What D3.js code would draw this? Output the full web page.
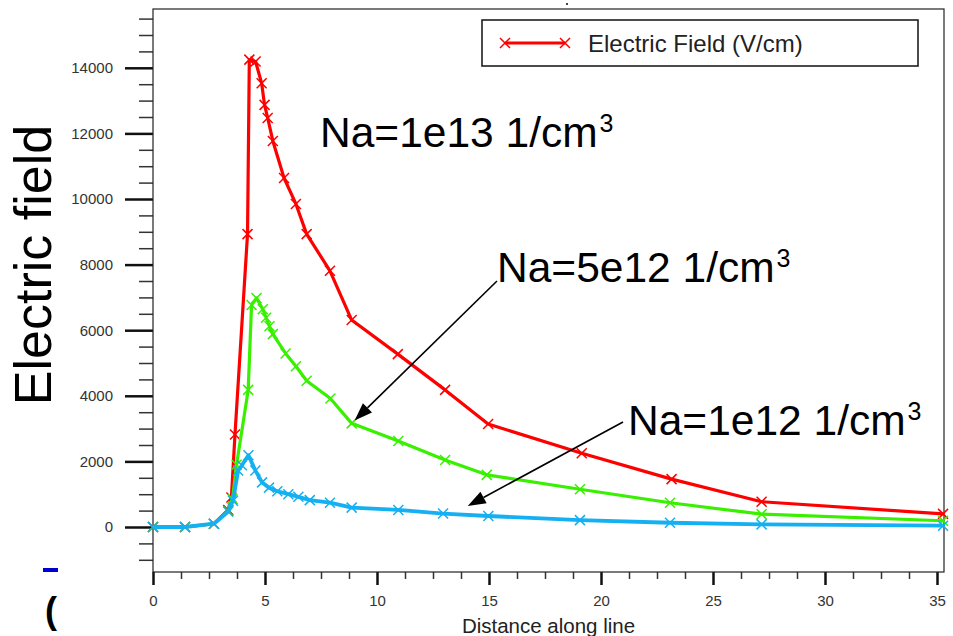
<!DOCTYPE html>
<html>
<head>
<meta charset="utf-8">
<script src="https://cdn.jsdelivr.net/npm/d3@7"></script>
<style>
  body { margin: 0; background: #fff; }
  svg { display: block; font-family: "Liberation Sans", Arial, Helvetica, sans-serif; }
</style>
</head>
<body>
<svg id="chart" width="953" height="636"></svg>
<script>
// ---- data -------------------------------------------------------------
const xMajorTicks = [0, 5, 10, 15, 20, 25, 30, 35];
const yMajorTicks = [0, 2000, 4000, 6000, 8000, 10000, 12000, 14000];
const legendLabel = "Electric Field (V/cm)";
const xTitle = "Distance along line";
const yTitle = "Electric field";

// Na = 1e13 1/cm3
const dist13  = [0, 1.43, 2.72, 3.36, 3.5, 3.66, 4.22, 4.3, 4.58, 4.85, 4.98, 5.12, 5.35, 5.85, 6.38, 6.86, 7.9, 8.87, 10.93, 13.04, 14.96, 19.14, 23.15, 27.17, 35.27];
const field13 = [0, 0, 100, 520, 900, 2820, 8930, 14250, 14190, 13530, 12870, 12470, 11770, 10640, 9850, 8930, 7810, 6310, 5270, 4180, 3140, 2250, 1460, 770, 400];

// Na = 5e12 1/cm3
const dist5e12  = [0, 1.43, 2.72, 3.36, 3.55, 3.73, 4.25, 4.4, 4.62, 4.9, 5.05, 5.2, 5.35, 5.92, 6.38, 6.86, 7.92, 8.87, 10.95, 13.04, 14.9, 19.06, 23.08, 27.17, 35.27];
const field5e12 = [0, 0, 100, 480, 850, 1900, 4180, 6770, 6980, 6640, 6380, 6120, 5880, 5290, 4900, 4460, 3920, 3160, 2620, 2040, 1590, 1150, 740, 390, 190];

// Na = 1e12 1/cm3
const dist12  = [0, 1.43, 2.72, 3.36, 3.57, 3.8, 3.97, 4.26, 4.57, 4.87, 5.18, 5.55, 6.04, 6.49, 7.0, 7.9, 8.87, 10.95, 12.95, 14.97, 19.06, 23.08, 27.17, 35.27];
const field12 = [0, 0, 100, 470, 800, 1720, 1880, 2190, 1720, 1360, 1200, 1090, 1000, 920, 820, 740, 590, 520, 410, 335, 210, 130, 80, 40];

const seriesColors = ["#ff0000", "#38f000", "#14b0f2"];
const seriesWidths = [3.2, 3.2, 3.8];

// ---- layout -----------------------------------------------------------
const frame = { left: 153, right: 944, top: 9, bottom: 572 };
const svg = d3.select("#chart");

const x = d3.scaleLinear().domain([0, 35]).range([153, 937]);
const y = d3.scaleLinear().domain([0, 14000]).range([527, 67.8]);

// ---- axes -------------------------------------------------------------
const xMinor = d3.range(0, 35.3, 1.25).filter(v => Math.abs(v / 5 - Math.round(v / 5)) > 1e-6);
const yMinor = d3.range(-1000, 15600, 500).filter(v => v % 2000 !== 0);

const gx = svg.append("g").attr("transform", `translate(0,${frame.bottom})`);
gx.append("g")
  .call(d3.axisBottom(x).tickValues(xMinor).tickSize(7).tickFormat(""))
  .call(g => g.select(".domain").remove())
  .call(g => g.selectAll("line").attr("stroke", "#333").attr("stroke-width", 1.5));
gx.append("g")
  .call(d3.axisBottom(x).tickValues(xMajorTicks).tickSize(13).tickPadding(10).tickFormat(d3.format("d")))
  .call(g => g.select(".domain").remove())
  .call(g => g.selectAll("line").attr("stroke", "#111").attr("stroke-width", 2.5))
  .call(g => g.selectAll("text").attr("font-size", 15).attr("fill", "#333").attr("font-family", null));

const gy = svg.append("g").attr("transform", `translate(${frame.left},0)`);
gy.append("g")
  .call(d3.axisLeft(y).tickValues(yMinor).tickSize(14).tickFormat(""))
  .call(g => g.select(".domain").remove())
  .call(g => g.selectAll("line").attr("stroke", "#333").attr("stroke-width", 1.5));
gy.append("g")
  .call(d3.axisLeft(y).tickValues(yMajorTicks).tickSize(28).tickPadding(12).tickFormat(d3.format("d")))
  .call(g => g.select(".domain").remove())
  .call(g => g.selectAll("line").attr("stroke", "#111").attr("stroke-width", 2.5))
  .call(g => g.selectAll("text").attr("font-size", 15).attr("fill", "#333").attr("font-family", null));

// plot frame
svg.append("rect")
  .attr("x", frame.left).attr("y", frame.top)
  .attr("width", frame.right - frame.left).attr("height", frame.bottom - frame.top)
  .attr("fill", "none").attr("stroke", "#222").attr("stroke-width", 1.2);

// axis titles
svg.append("text")
  .attr("x", (frame.left + frame.right) / 2).attr("y", 633)
  .attr("text-anchor", "middle").attr("font-size", 20.5).attr("fill", "#222")
  .text(xTitle);

svg.append("text")
  .attr("transform", "translate(51,265) rotate(-90)")
  .attr("text-anchor", "middle").attr("font-size", 52).attr("fill", "#000")
  .text(yTitle);

// ---- series -----------------------------------------------------------
const series = [
  { dist: dist13,   field: field13,   color: seriesColors[0], width: seriesWidths[0] },
  { dist: dist5e12, field: field5e12, color: seriesColors[1], width: seriesWidths[1] },
  { dist: dist12,   field: field12,   color: seriesColors[2], width: seriesWidths[2] }
];

const line = d3.line().x(d => x(d[0])).y(d => y(d[1]));
const cross = 5;

series.forEach(s => {
  const pts = d3.zip(s.dist, s.field);
  const g = svg.append("g");
  g.append("path")
    .datum(pts)
    .attr("d", line)
    .attr("fill", "none")
    .attr("stroke", s.color)
    .attr("stroke-width", s.width)
    .attr("stroke-linejoin", "round");
  g.selectAll("path.mk")
    .data(pts)
    .join("path")
    .attr("class", "mk")
    .attr("d", d => {
      const px = x(d[0]), py = y(d[1]);
      return `M${px - cross},${py - cross}L${px + cross},${py + cross}M${px - cross},${py + cross}L${px + cross},${py - cross}`;
    })
    .attr("stroke", s.color)
    .attr("stroke-width", 1.5)
    .attr("fill", "none");
});

// ---- legend -----------------------------------------------------------
const lg = svg.append("g");
lg.append("rect")
  .attr("x", 482).attr("y", 20).attr("width", 436).attr("height", 46)
  .attr("fill", "#fff").attr("stroke", "#111").attr("stroke-width", 1.5);
lg.append("line")
  .attr("x1", 505).attr("x2", 565).attr("y1", 43).attr("y2", 43)
  .attr("stroke", seriesColors[0]).attr("stroke-width", 3);
[505, 565].forEach(px => {
  lg.append("path")
    .attr("d", `M${px - 5},${38}L${px + 5},${48}M${px - 5},${48}L${px + 5},${38}`)
    .attr("stroke", seriesColors[0]).attr("stroke-width", 1.5);
});
lg.append("text")
  .attr("x", 588).attr("y", 52)
  .attr("font-size", 24).attr("fill", "#222")
  .text(legendLabel);

// ---- annotations ------------------------------------------------------
function concLabel(px, py, base) {
  const t = svg.append("text").attr("x", px).attr("y", py).attr("font-size", 42.5).attr("fill", "#000");
  t.append("tspan").text(base + " 1/cm");
  t.append("tspan").attr("font-size", 25).attr("dy", -15).attr("dx", 2).text("3");
}
concLabel(320, 147, "Na=1e13");
concLabel(497, 282, "Na=5e12");
concLabel(628, 435, "Na=1e12");

function arrow(x0, y0, x1, y1) {
  const ang = Math.atan2(y1 - y0, x1 - x0);
  const len = 18, half = 6.5;
  const bx = x1 - len * Math.cos(ang), by = y1 - len * Math.sin(ang);
  svg.append("line")
    .attr("x1", x0).attr("y1", y0).attr("x2", bx).attr("y2", by)
    .attr("stroke", "#000").attr("stroke-width", 1.6);
  const nx = -Math.sin(ang) * half, ny = Math.cos(ang) * half;
  svg.append("path")
    .attr("d", `M${x1},${y1}L${bx + nx},${by + ny}L${bx - nx},${by - ny}Z`)
    .attr("fill", "#000");
}
arrow(497, 281, x(9.0), y(3250));
arrow(623, 422, x(14.05), y(640));

// ---- stray fragments at the page edge ---------------------------------
svg.append("rect").attr("x", 43).attr("y", 568).attr("width", 15).attr("height", 4).attr("fill", "#0000cc");
svg.append("clipPath").attr("id", "edgeClip")
  .append("rect").attr("x", 0).attr("y", 590).attr("width", 58).attr("height", 46);
svg.append("text")
  .attr("x", 45).attr("y", 623)
  .attr("font-size", 36).attr("font-weight", "bold").attr("fill", "#000")
  .attr("clip-path", "url(#edgeClip)")
  .text("(");
svg.append("rect").attr("x", 566).attr("y", 3).attr("width", 2).attr("height", 2).attr("fill", "#444");
</script>
</body>
</html>
